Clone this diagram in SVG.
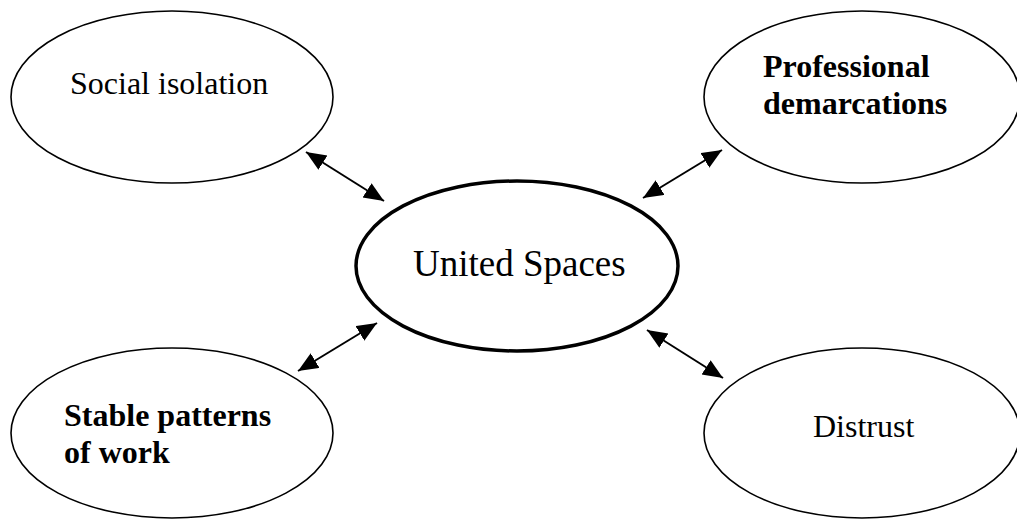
<svg xmlns="http://www.w3.org/2000/svg" width="1017" height="520" viewBox="0 0 1017 520">
  <style>
    .node { fill: #ffffff; stroke: #000000; stroke-width: 1.6; }
    .center { fill: #ffffff; stroke: #000000; stroke-width: 3.5; }
    .lbl { font-family: "Liberation Serif", "Times New Roman", serif; font-size: 32px; fill: #000000; }
    .bold { font-weight: bold; }
    .big { font-size: 37px; }
    .conn { stroke: #000000; stroke-width: 2; fill: none; marker-start: url(#ah); marker-end: url(#ah); }
  </style>
  <defs>
    <marker id="ah" markerUnits="userSpaceOnUse" markerWidth="21" markerHeight="18" refX="20" refY="8.5" orient="auto-start-reverse" viewBox="0 0 21 18">
      <path d="M0,0 L20,8.5 L0,17 z" fill="#000000"/>
    </marker>
  </defs>
  <rect width="1017" height="520" fill="#ffffff"/>
  <g id="connectors">
    <line class="conn" x1="306" y1="152" x2="384" y2="201"/>
    <line class="conn" x1="722" y1="150" x2="643" y2="198"/>
    <line class="conn" x1="377" y1="323" x2="298" y2="371"/>
    <line class="conn" x1="647" y1="330" x2="723" y2="378"/>
  </g>
  <g id="social-isolation">
    <ellipse class="node" cx="172" cy="97" rx="161" ry="86"/>
    <text class="lbl" x="70" y="94">Social isolation</text>
  </g>
  <g id="professional-demarcations">
    <ellipse class="node" cx="862" cy="97" rx="158" ry="86"/>
    <text class="lbl bold" x="763" y="77">Professional</text>
    <text class="lbl bold" x="763" y="114">demarcations</text>
  </g>
  <g id="united-spaces">
    <ellipse class="center" cx="517" cy="266" rx="161" ry="85"/>
    <text class="lbl big" x="413" y="276">United Spaces</text>
  </g>
  <g id="stable-patterns">
    <ellipse class="node" cx="172" cy="433" rx="161" ry="85"/>
    <text class="lbl bold" x="64" y="426">Stable patterns</text>
    <text class="lbl bold" x="64" y="463">of work</text>
  </g>
  <g id="distrust">
    <ellipse class="node" cx="862" cy="433" rx="158" ry="85"/>
    <text class="lbl" x="813" y="437">Distrust</text>
  </g>
</svg>
